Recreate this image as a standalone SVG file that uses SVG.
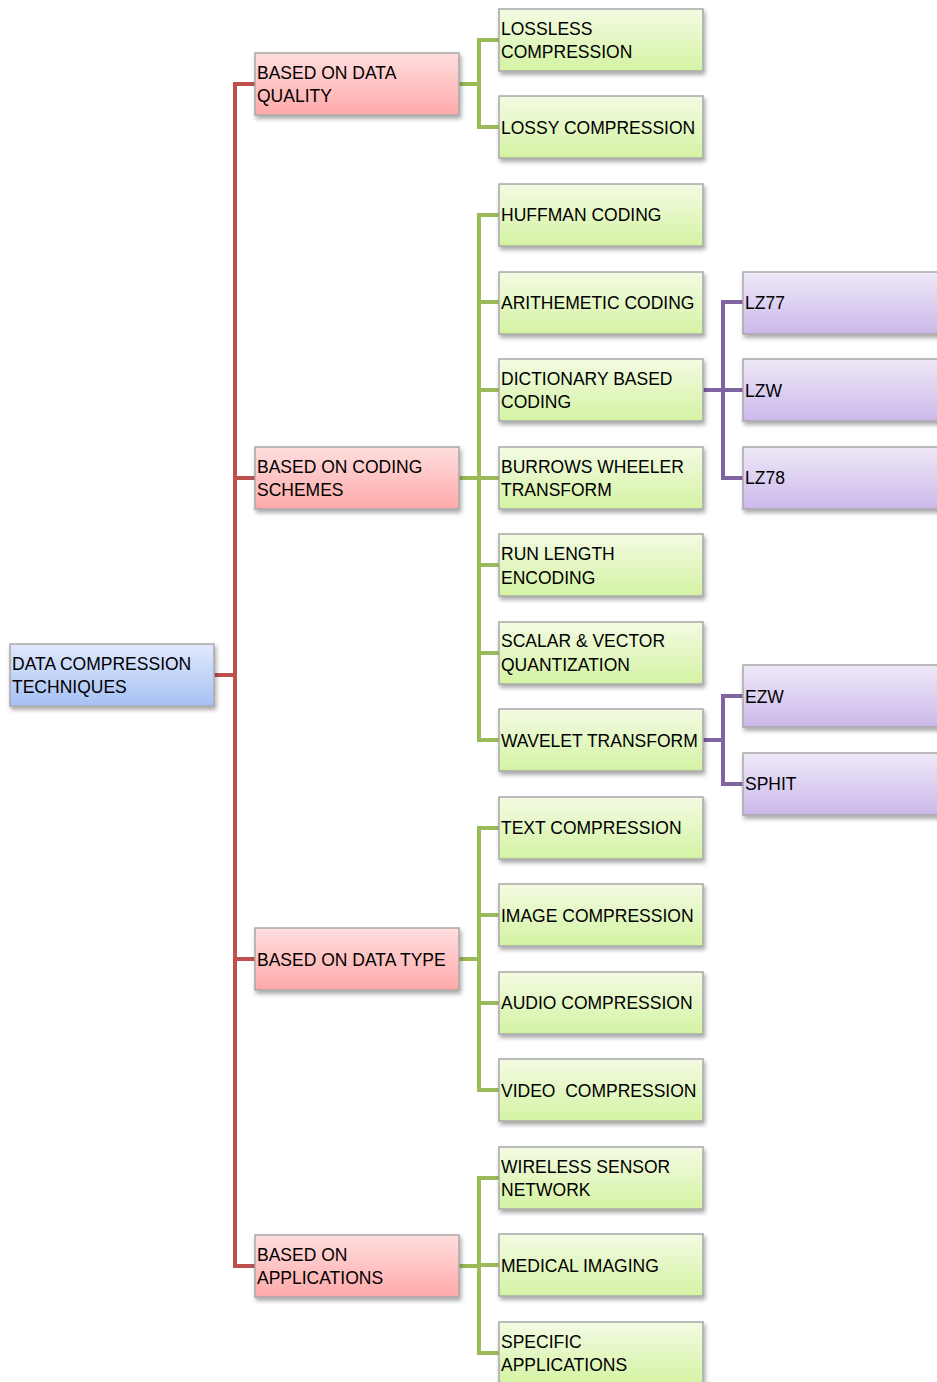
<svg xmlns="http://www.w3.org/2000/svg" width="937" height="1382" viewBox="0 0 937 1382">
<defs>
<linearGradient id="gBlue" x1="0" y1="0" x2="0" y2="1"><stop offset="0" stop-color="#e0e9fd"/><stop offset="1" stop-color="#a6c1f4"/></linearGradient>
<linearGradient id="gRed" x1="0" y1="0" x2="0" y2="1"><stop offset="0" stop-color="#ffdede"/><stop offset="1" stop-color="#ffa9a9"/></linearGradient>
<linearGradient id="gGreen" x1="0" y1="0" x2="0" y2="1"><stop offset="0" stop-color="#f3fbe3"/><stop offset="1" stop-color="#d4f3a3"/></linearGradient>
<linearGradient id="gPurple" x1="0" y1="0" x2="0" y2="1"><stop offset="0" stop-color="#efe9f8"/><stop offset="1" stop-color="#cbb8ea"/></linearGradient>
<filter id="sh" x="-10%" y="-20%" width="130%" height="150%"><feDropShadow dx="1.5" dy="3" stdDeviation="2" flood-color="#000" flood-opacity="0.35"/></filter>
</defs>
<style>
.box{stroke:#a8a8a8;stroke-width:1.5;filter:url(#sh)}
.b{fill:url(#gBlue)}.r{fill:url(#gRed)}.g{fill:url(#gGreen)}.p{fill:url(#gPurple)}
text{font-family:"Liberation Sans",Arial,sans-serif;font-size:17.5px;fill:#000}
.cr{stroke:#c0504d;stroke-width:4;fill:none}
.cg{stroke:#9bbb59;stroke-width:4;fill:none}
.cp{stroke:#8064a2;stroke-width:4;fill:none}
</style>
<g id="connectors">
<path class="cr" d="M214 675H235M255 84H235V1266H255M235 478H255M235 959H255"/>
<path class="cg" d="M459 84H479M499 40H479V127H499"/>
<path class="cg" d="M459 478H479M499 215H479V740H499M479 302H499M479 390H499M479 478H499M479 565H499M479 653H499"/>
<path class="cg" d="M459 959H479M499 828H479V1090H499M479 915H499M479 1003H499"/>
<path class="cg" d="M459 1266H479M499 1178H479V1353H499M479 1265H499"/>
<path class="cp" d="M703 390H723M743 302H723V478H743M723 390H743"/>
<path class="cp" d="M703 740H723M743 696H723V784H743"/>
</g>
<g id="root"><rect class="box b" x="10" y="644" width="204" height="62"/><text x="12" y="670">DATA COMPRESSION</text><text x="12" y="693">TECHNIQUES</text></g>
<g id="quality"><rect class="box r" x="255" y="53" width="204" height="62"/><text x="257" y="79">BASED ON DATA</text><text x="257" y="102">QUALITY</text></g>
<g id="coding"><rect class="box r" x="255" y="447" width="204" height="62"/><text x="257" y="473">BASED ON CODING</text><text x="257" y="496">SCHEMES</text></g>
<g id="datatype"><rect class="box r" x="255" y="928" width="204" height="62"/><text x="257" y="966">BASED ON DATA TYPE</text></g>
<g id="applications"><rect class="box r" x="255" y="1235" width="204" height="62"/><text x="257" y="1261">BASED ON</text><text x="257" y="1284">APPLICATIONS</text></g>
<g id="lossless"><rect class="box g" x="499" y="9" width="204" height="62"/><text x="501" y="35">LOSSLESS</text><text x="501" y="58">COMPRESSION</text></g>
<g id="lossy"><rect class="box g" x="499" y="96" width="204" height="62"/><text x="501" y="134">LOSSY COMPRESSION</text></g>
<g id="huffman"><rect class="box g" x="499" y="184" width="204" height="62"/><text x="501" y="221">HUFFMAN CODING</text></g>
<g id="arithmetic"><rect class="box g" x="499" y="272" width="204" height="62"/><text x="501" y="309">ARITHEMETIC CODING</text></g>
<g id="dictionary"><rect class="box g" x="499" y="359" width="204" height="62"/><text x="501" y="385">DICTIONARY BASED</text><text x="501" y="408">CODING</text></g>
<g id="burrows"><rect class="box g" x="499" y="447" width="204" height="62"/><text x="501" y="473">BURROWS WHEELER</text><text x="501" y="496">TRANSFORM</text></g>
<g id="runlength"><rect class="box g" x="499" y="534" width="204" height="62"/><text x="501" y="560">RUN LENGTH</text><text x="501" y="584">ENCODING</text></g>
<g id="scalar"><rect class="box g" x="499" y="622" width="204" height="62"/><text x="501" y="647">SCALAR &amp; VECTOR</text><text x="501" y="671">QUANTIZATION</text></g>
<g id="wavelet"><rect class="box g" x="499" y="709" width="204" height="62"/><text x="501" y="747">WAVELET TRANSFORM</text></g>
<g id="text"><rect class="box g" x="499" y="797" width="204" height="62"/><text x="501" y="834">TEXT COMPRESSION</text></g>
<g id="image"><rect class="box g" x="499" y="884" width="204" height="62"/><text x="501" y="922">IMAGE COMPRESSION</text></g>
<g id="audio"><rect class="box g" x="499" y="972" width="204" height="62"/><text x="501" y="1009">AUDIO COMPRESSION</text></g>
<g id="video"><rect class="box g" x="499" y="1059" width="204" height="62"/><text x="501" y="1097" xml:space="preserve">VIDEO  COMPRESSION</text></g>
<g id="wireless"><rect class="box g" x="499" y="1147" width="204" height="62"/><text x="501" y="1173">WIRELESS SENSOR</text><text x="501" y="1196">NETWORK</text></g>
<g id="medical"><rect class="box g" x="499" y="1234" width="204" height="62"/><text x="501" y="1272">MEDICAL IMAGING</text></g>
<g id="specific"><rect class="box g" x="499" y="1322" width="204" height="62"/><text x="501" y="1348">SPECIFIC</text><text x="501" y="1371">APPLICATIONS</text></g>
<g id="lz77"><rect class="box p" x="743" y="272" width="204" height="62"/><text x="745" y="309">LZ77</text></g>
<g id="lzw"><rect class="box p" x="743" y="359" width="204" height="62"/><text x="745" y="397">LZW</text></g>
<g id="lz78"><rect class="box p" x="743" y="447" width="204" height="62"/><text x="745" y="484">LZ78</text></g>
<g id="ezw"><rect class="box p" x="743" y="665" width="204" height="62"/><text x="745" y="703">EZW</text></g>
<g id="sphit"><rect class="box p" x="743" y="753" width="204" height="62"/><text x="745" y="790">SPHIT</text></g>
</svg>
